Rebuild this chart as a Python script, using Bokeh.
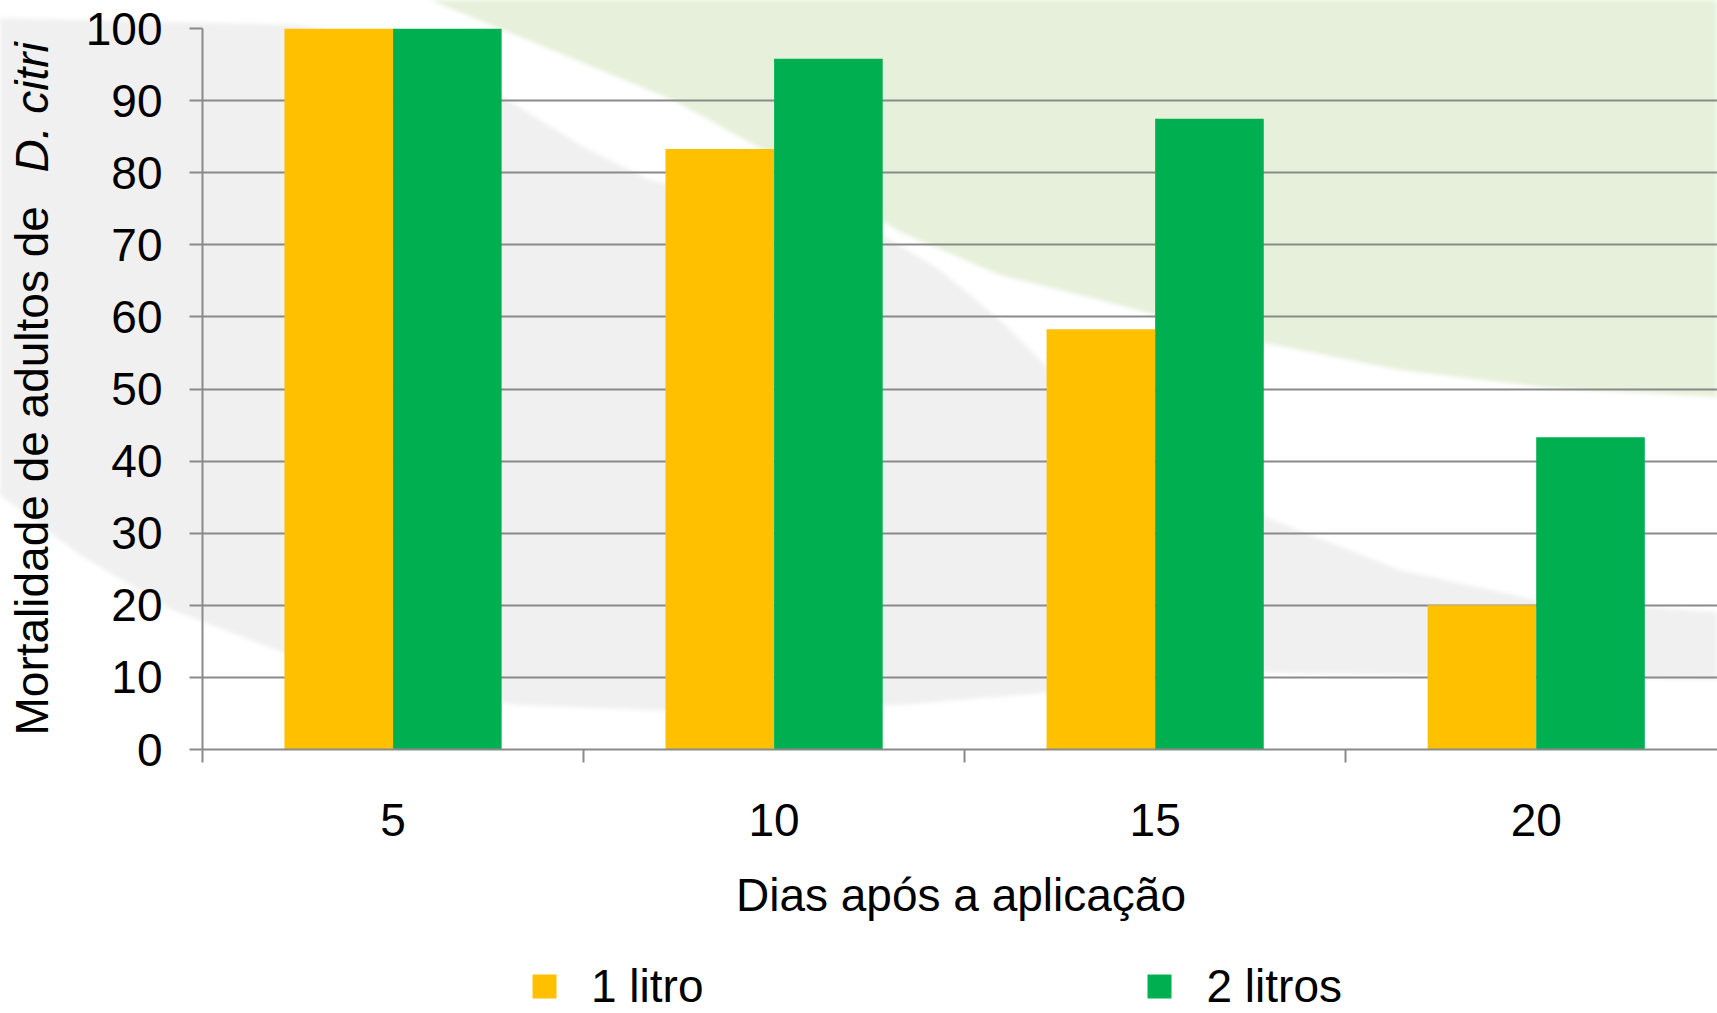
import math
from urllib.parse import quote

from bokeh.embed import file_html
from bokeh.layouts import column, row
from bokeh.models import (ColumnDataSource, FixedTicker, Grid, Label, Legend, LegendItem,
                          LinearAxis, Range1d)
from bokeh.plotting import figure
from bokeh.resources import INLINE
from bokeh.transform import dodge

# --- data -------------------------------------------------------------------
dias = ["5", "10", "15", "20"]            # days after application
um_litro = [100.0, 83.3, 58.3, 20.0]      # mortality (%) with 1 L
dois_litros = [100.0, 95.8, 87.5, 43.3]   # mortality (%) with 2 L
y_ticks = [0, 10, 20, 30, 40, 50, 60, 70, 80, 90, 100]
series = ["1 litro", "2 litros"]

# --- styling ----------------------------------------------------------------
FONT = "Liberation Sans"
FS = "46px"
GRID = "#8a8a8a"
AMARELO = "#FFC000"
VERDE = "#00B050"
BAR_W = 0.285
W, H = 1717, 1013
TITLE_W = 82          # strip holding the vertical axis title
FRAME_W, FRAME_H = 1517, 721
TOP, BOTTOM = 28, 190
CHART_H = TOP + FRAME_H + BOTTOM
LEG_H = H - CHART_H

# decorative slide background (two soft swooshes), drawn behind the canvases
green_pts = [(430, 0), (540, 45), (673, 100), (800, 170), (900, 232), (1000, 275),
             (1100, 300), (1250, 340), (1400, 370), (1550, 388), (1717, 397), (1717, 0)]
gray_pts = [(0, 18), (300, 25), (420, 50), (500, 95), (580, 145), (650, 180), (760, 205),
            (874, 230), (940, 270), (1000, 320), (1080, 400), (1170, 465), (1265, 517),
            (1400, 570), (1536, 600), (1717, 612), (1717, 680), (1500, 676), (1265, 673),
            (1100, 688), (900, 705), (700, 712), (517, 705), (350, 678), (172, 610),
            (80, 555), (0, 495)]


def pts(seq):
    return " ".join(f"{x},{y}" for x, y in seq)


bg_svg = (
    f"<svg xmlns='http://www.w3.org/2000/svg' width='{W}' height='{H}'>"
    "<defs><filter id='s'><feGaussianBlur stdDeviation='2'/></filter></defs>"
    f"<rect width='{W}' height='{H}' fill='white'/>"
    f"<polygon points='{pts(green_pts)}' fill='#e6f0da' filter='url(#s)'/>"
    f"<polygon points='{pts(gray_pts)}' fill='#f0f0f0' filter='url(#s)'/>"
    "</svg>"
)

pos = [i + 0.5 for i in range(len(dias))]
src = ColumnDataSource(dict(pos=pos, dia=dias, um=um_litro, dois=dois_litros))


def bare(fig):
    fig.outline_line_color = None
    fig.background_fill_alpha = 0
    fig.border_fill_alpha = 0
    return fig


# --- main chart ---------------------------------------------------------------
p = bare(figure(width=W - TITLE_W, height=CHART_H, frame_width=FRAME_W, frame_height=FRAME_H,
                x_range=Range1d(0, 3.981), y_range=Range1d(0, 100),
                x_axis_type=None, y_axis_type=None,
                output_backend="svg", toolbar_location=None,
                min_border_left=200 - TITLE_W, min_border_right=0,
                min_border_top=TOP, min_border_bottom=BOTTOM))

yax = LinearAxis(ticker=FixedTicker(ticks=y_ticks))
yax.axis_line_color = GRID
yax.axis_line_width = 2
yax.major_tick_line_color = GRID
yax.major_tick_line_width = 2
yax.major_tick_out = 13
yax.major_tick_in = 0
yax.minor_tick_line_color = None
yax.major_label_standoff = 27
yax.major_label_text_font = FONT
yax.major_label_text_font_size = FS
yax.major_label_text_color = "black"
p.add_layout(yax, "left")

xax = LinearAxis(ticker=FixedTicker(ticks=pos, minor_ticks=list(range(len(dias)))))
xax.major_label_overrides = {x: d for x, d in zip(pos, dias)}
xax.axis_line_color = GRID
xax.axis_line_width = 2
xax.major_tick_line_color = None
xax.major_tick_out = 0
xax.major_tick_in = 0
xax.minor_tick_line_color = GRID
xax.minor_tick_line_width = 2
xax.minor_tick_out = 13
xax.minor_tick_in = 0
xax.major_label_standoff = 41
xax.major_label_text_font = FONT
xax.major_label_text_font_size = FS
xax.major_label_text_color = "black"
xax.axis_label = "Dias após a aplicação"
xax.axis_label_standoff = 30
xax.axis_label_text_font = FONT
xax.axis_label_text_font_size = FS
xax.axis_label_text_font_style = "normal"
xax.axis_label_text_color = "black"
p.add_layout(xax, "below")

p.add_layout(Grid(dimension=1, ticker=FixedTicker(ticks=y_ticks),
                  grid_line_color=GRID, grid_line_width=2))

p.vbar(x=dodge("pos", -BAR_W / 2, range=p.x_range), top="um", width=BAR_W,
       source=src, fill_color=AMARELO, line_color=None)
p.vbar(x=dodge("pos", BAR_W / 2, range=p.x_range), top="dois", width=BAR_W,
       source=src, fill_color=VERDE, line_color=None)

# --- vertical axis title (species name in italics) ------------------------------
t = bare(figure(width=TITLE_W, height=CHART_H, frame_width=TITLE_W, frame_height=CHART_H,
                x_range=Range1d(0, 1), y_range=Range1d(0, 1),
                x_axis_type=None, y_axis_type=None, output_backend="svg",
                toolbar_location=None, min_border=0))
TITLE_X = 31
t.add_layout(Label(x=TITLE_X, y=735, x_units="canvas", y_units="canvas",
                   text="Mortalidade de adultos de", angle=math.pi / 2,
                   text_align="left", text_baseline="alphabetic",
                   text_font=FONT, text_font_size=FS, text_color="black"))
t.add_layout(Label(x=TITLE_X, y=172, x_units="canvas", y_units="canvas",
                   text="D. citri", angle=math.pi / 2,
                   text_align="left", text_baseline="alphabetic",
                   text_font=FONT, text_font_size=FS, text_font_style="italic",
                   text_color="black"))

# --- legend strip ---------------------------------------------------------------
leg = bare(figure(width=W, height=LEG_H, frame_width=W, frame_height=LEG_H,
                  x_range=Range1d(0, 1), y_range=Range1d(0, 1),
                  x_axis_type=None, y_axis_type=None, output_backend="svg",
                  toolbar_location=None, min_border=0))
# keys only: one zero-height bar parked outside the visible range
key_src = ColumnDataSource(dict(x=[-5.0], top=[0.0]))
k1 = leg.vbar(x="x", top="top", width=0.1, source=key_src, fill_color=AMARELO, line_color=None)
k2 = leg.vbar(x="x", top="top", width=0.1, source=key_src, fill_color=VERDE, line_color=None)
legend = Legend(items=[LegendItem(label=series[0], renderers=[k1]),
                       LegendItem(label=series[1], renderers=[k2])],
                orientation="horizontal", location=(529, 0),
                glyph_width=30, glyph_height=30, label_standoff=32, spacing=441,
                padding=0, margin=0, border_line_color=None,
                background_fill_alpha=0,
                label_text_font=FONT, label_text_font_size=FS, label_text_color="black")
leg.add_layout(legend, "center")

page = column(row(t, p, spacing=0), leg, spacing=0)
page.styles = {
    "background-color": "white",
    "background-image": f'url("data:image/svg+xml,{quote(bg_svg)}")',
    "background-repeat": "no-repeat",
    "background-size": f"{W}px {H}px",
}

open("out.html", "w").write(file_html(page, INLINE))
